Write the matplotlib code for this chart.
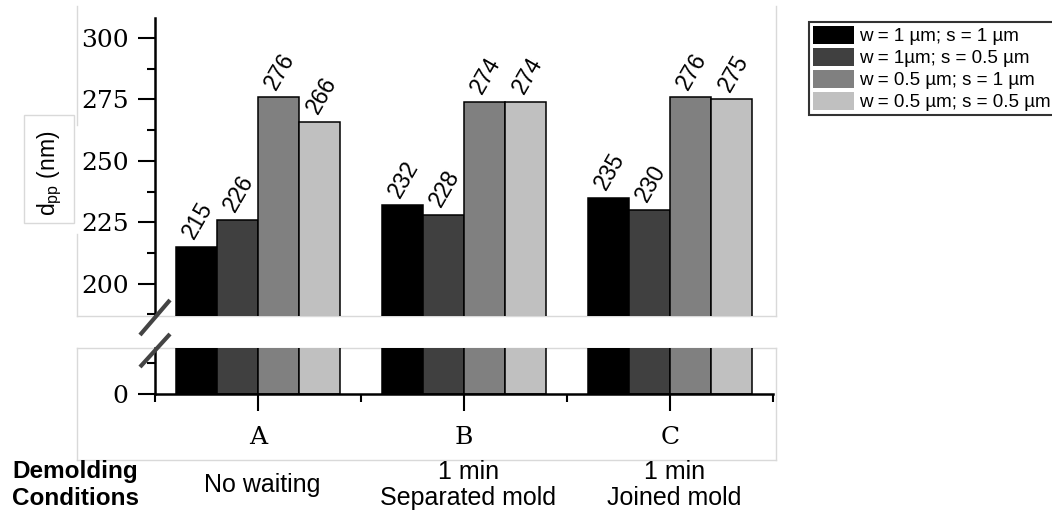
import matplotlib
matplotlib.use("Agg")
import matplotlib.pyplot as plt
import matplotlib.transforms as mtransforms
from matplotlib.lines import Line2D
from matplotlib.patches import Patch, Rectangle
from matplotlib.ticker import FixedLocator

# ---- data ----
groups = ["A", "B", "C"]
conditions = ["No waiting", "1 min\nSeparated mold", "1 min\nJoined mold"]
series_labels = [
    "w = 1 µm; s = 1 µm",
    "w = 1µm; s = 0.5 µm",
    "w = 0.5 µm; s = 1 µm",
    "w = 0.5 µm; s = 0.5 µm",
]
series_colors = ["#000000", "#404040", "#808080", "#c0c0c0"]
w1_s1 = [215, 232, 235]
w1_s05 = [226, 228, 230]
w05_s1 = [276, 274, 276]
w05_s05 = [266, 274, 275]
series_values = [w1_s1, w1_s05, w05_s1, w05_s05]
upper_ticks = [200, 225, 250, 275, 300]
lower_ticks = [0]

W, H = 1052, 515
fig = plt.figure(figsize=(W / 100, H / 100), dpi=100)
fig.patch.set_facecolor("white")


def fx(x):
    return x / W


def fy(y):
    return 1 - y / H


serif = "DejaVu Serif"
tick_size = 18
sans = ["Liberation Sans", "DejaVu Sans"]

ax_top = fig.add_axes([fx(155), fy(316), fx(773) - fx(155), fy(18) - fy(316)])
ax_bot = fig.add_axes([fx(155), fy(394), fx(773) - fx(155), fy(348) - fy(394)])

x = list(range(1, len(groups) + 1))
bar_w = 0.2
offsets = [-0.3, -0.1, 0.1, 0.3]

for ax in (ax_top, ax_bot):
    for vals, col, off, lab in zip(series_values, series_colors, offsets, series_labels):
        ax.bar([xi + off for xi in x], vals, width=bar_w, color=col,
               edgecolor="black", linewidth=1.1, label=lab, zorder=2)
    ax.set_xlim(0.5, 3.5)
    ax.set_facecolor("none")
    for s in ("top", "right"):
        ax.spines[s].set_visible(False)
    ax.spines["left"].set_linewidth(1.8)
    ax.spines["bottom"].set_linewidth(1.8)
    ax.tick_params(axis="y", which="major", direction="out", length=12, width=1.5, pad=7)
    ax.tick_params(axis="y", which="minor", direction="out", length=6, width=1.5)

# upper panel (broken axis, 200 - 300)
ax_top.set_ylim(186.8, 308.2)
ax_top.spines["bottom"].set_visible(False)
ax_top.set_xticks([])
ax_top.yaxis.set_major_locator(FixedLocator(upper_ticks))
ax_top.yaxis.set_minor_locator(FixedLocator([t - 12.5 for t in upper_ticks]))
ax_top.set_yticklabels([str(t) for t in upper_ticks], fontfamily=serif, fontsize=tick_size)

# lower panel (0 baseline)
ax_bot.set_ylim(0, 18.75)
ax_bot.yaxis.set_major_locator(FixedLocator(lower_ticks))
ax_bot.yaxis.set_minor_locator(FixedLocator([12.5]))
ax_bot.set_yticklabels([str(t) for t in lower_ticks], fontfamily=serif, fontsize=tick_size)
ax_bot.set_xticks(x)
ax_bot.set_xticklabels(groups, fontfamily=serif, fontsize=tick_size)
ax_bot.xaxis.set_minor_locator(FixedLocator([0.5, 1.5, 2.5, 3.5]))
ax_bot.tick_params(axis="x", which="major", direction="out", length=12, width=1.5, pad=11)
ax_bot.tick_params(axis="x", which="minor", direction="out", length=6, width=1.5)

# value labels above bars
label_shift = mtransforms.offset_copy(ax_top.transData, fig=fig, x=2, y=4, units="dots")
for vals, off in zip(series_values, offsets):
    for xi, v in zip(x, vals):
        ax_top.text(xi + off, v, f"{v}", transform=label_shift,
                    rotation=60, rotation_mode="anchor", ha="left", va="bottom",
                    fontsize=16.5, family=sans, color="black", clip_on=False)

# axis break marks
for y0, y1 in ((335, 300), (367, 334)):
    fig.add_artist(Line2D([fx(140), fx(170)], [fy(y0), fy(y1)], color="#444444",
                          linewidth=3, solid_capstyle="butt", zorder=10))

# light panel outlines
gray = "#d9d9d9"
segments = [
    ((77, 6), (77, 125)), ((77, 234), (77, 316)), ((776, 6), (776, 316)),
    ((77, 316), (776, 316)),
    ((77, 348), (776, 348)), ((77, 460), (776, 460)),
    ((77, 348), (77, 460)), ((776, 348), (776, 460)),
]
for (xa, ya), (xb, yb) in segments:
    fig.add_artist(Line2D([fx(xa), fx(xb)], [fy(ya), fy(yb)], color=gray,
                          linewidth=1, zorder=0))
fig.add_artist(Rectangle((fx(24), fy(223)), fx(74) - fx(24), fy(115) - fy(223),
                         facecolor="white", edgecolor=gray, linewidth=1, zorder=0))

# y label
fig.text(fx(50), fy(173), r"d$_{\mathregular{pp}}$ (nm)", rotation=90, ha="center",
         va="center", fontsize=16.5, family=sans)

# demolding condition row
fig.text(fx(12), fy(485), "Demolding\nConditions", ha="left", va="center",
         fontsize=17.5, fontweight="bold", family=sans, linespacing=1.25)
blend = mtransforms.blended_transform_factory(ax_bot.transData, fig.transFigure)
for xi, cond in zip(x, conditions):
    ax_bot.text(xi + 0.02, fy(485), cond, transform=blend, ha="center", va="center",
                fontsize=18, family=sans, linespacing=1.12)

# legend
handles = [Patch(facecolor=c, edgecolor="none") for c in series_colors]
leg = fig.legend(handles, series_labels, loc="upper left",
                 bbox_to_anchor=(fx(809), fy(22)), bbox_transform=fig.transFigure,
                 prop={"family": sans, "size": 13.5}, frameon=True, fancybox=False,
                 borderpad=0.2, handlelength=2.2, handleheight=1.1, handletextpad=0.25,
                 labelspacing=0.14, borderaxespad=0)
leg.get_frame().set_edgecolor("black")
leg.get_frame().set_linewidth(1.5)

fig.savefig("out.png", dpi=100, facecolor="white")
